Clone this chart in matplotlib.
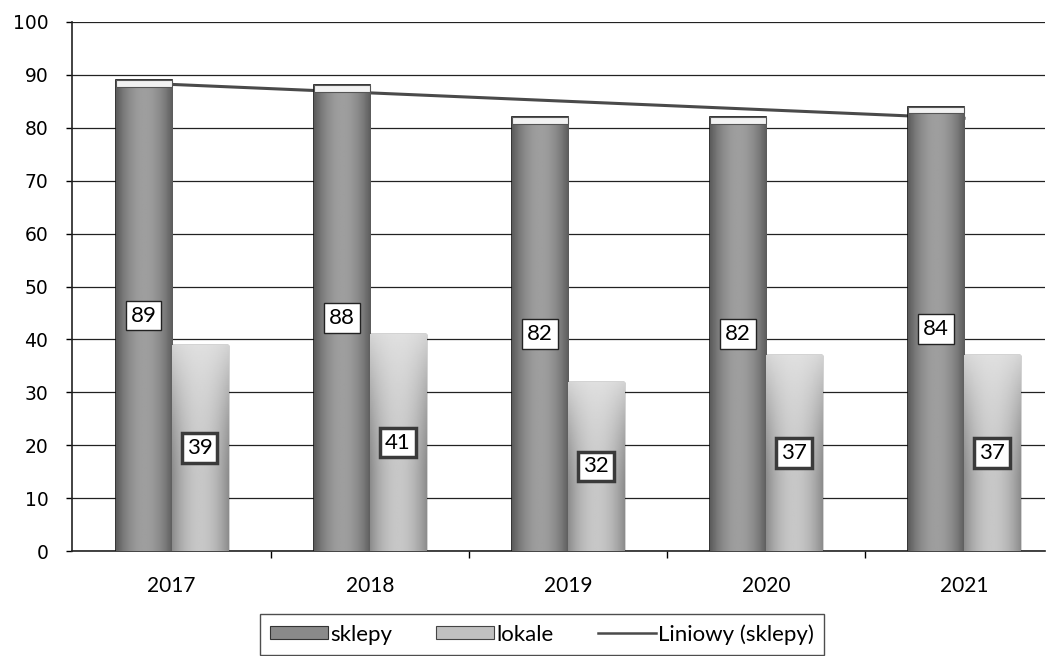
import matplotlib
matplotlib.use('Agg')
import matplotlib.pyplot as plt
import numpy as np
from matplotlib.patches import Patch
from matplotlib.lines import Line2D

plt.rcParams['font.family'] = ['Lato', 'DejaVu Sans']

years = ['2017', '2018', '2019', '2020', '2021']
sklepy = [89, 88, 82, 82, 84]
lokale = [39, 41, 32, 37, 37]

x = np.arange(len(years))
w = 0.283

fig = plt.figure(figsize=(10.51, 6.56), dpi=100)
ax = fig.add_axes([0.0685, 0.16, 0.926, 0.8065])


def shade(bar, dark, light, top_light=None):
    # cylinder-like shading: darker at the sides, lighter towards the middle
    x0, y0 = bar.get_x(), bar.get_y()
    bw, bh = bar.get_width(), bar.get_height()
    cols = np.linspace(-1, 1, 60)
    prof = 1 - np.abs(cols) ** 2
    row = dark + (light - dark) * prof
    img = np.tile(row, (100, 1))
    if top_light is not None:
        frac = np.linspace(0, 1, 100)[:, None]
        k = np.clip((frac - top_light) / (1 - top_light), 0, 1) ** 1.5
        img = img + (0.9 - img) * k * 0.8
    im = ax.imshow(img, cmap='gray', vmin=0, vmax=1, origin='lower',
                   extent=(x0, x0 + bw, y0, y0 + bh), aspect='auto', zorder=3)
    im.set_clip_path(bar)


bars_s = ax.bar(x - w / 2, sklepy, w, color='#808080', edgecolor='#111111',
                linewidth=1.2, zorder=3)
bars_l = ax.bar(x + w / 2, lokale, w, color='#b0b0b0', edgecolor='#222222',
                linewidth=1.0, zorder=3)
for b in bars_s:
    shade(b, 0.36, 0.62)
    # light cap on top of the cylinder
    ax.bar(b.get_x() + b.get_width() / 2, 1.2, b.get_width(), bottom=b.get_height() - 1.2,
           color='#f2f2f2', edgecolor='#555555', linewidth=0.8, zorder=4)
for b in bars_l:
    shade(b, 0.55, 0.78, top_light=0.35)

# linear trend of sklepy
coef = np.polyfit(x, sklepy, 1)
ax.plot(x, np.polyval(coef, x), color='#4a4a4a', lw=2.2, zorder=2.5)

# value labels in the middle of each bar
for b, v in zip(bars_s, sklepy):
    ax.text(b.get_x() + b.get_width() / 2, v / 2, str(v), ha='center', va='center',
            fontsize=16, zorder=6,
            bbox=dict(boxstyle='square,pad=0.22', fc='white', ec='#222222', lw=1.0))
for b, v in zip(bars_l, lokale):
    ax.text(b.get_x() + b.get_width() / 2, v / 2, str(v), ha='center', va='center',
            fontsize=16, zorder=6,
            bbox=dict(boxstyle='square,pad=0.22', fc='white', ec='#3a3a3a', lw=2.5))

ax.set_ylim(0, 100)
ax.set_xlim(-0.503, 4.41)
ax.set_yticks(np.arange(0, 101, 10))
ax.yaxis.grid(True, color='#222222', lw=0.9, zorder=1)
ax.set_axisbelow(True)

ax.set_xticks(x)
ax.set_xticklabels(years, fontsize=15)
ax.set_xticks(np.arange(0.5, 4.5, 1), minor=True)
ax.tick_params(axis='x', which='major', length=0, pad=18)
ax.tick_params(axis='x', which='minor', length=5, width=1, direction='out')
ax.tick_params(axis='y', length=4, width=1, pad=13)
for lbl in ax.get_yticklabels():
    lbl.set_fontfamily('DejaVu Sans')
    lbl.set_fontsize(13.5)

for s in ['top', 'right']:
    ax.spines[s].set_visible(False)
for s in ['left', 'bottom']:
    ax.spines[s].set_color('#222222')
    ax.spines[s].set_linewidth(1.2)

handles = [
    Patch(facecolor='#8a8a8a', edgecolor='#333333', lw=0.8),
    Patch(facecolor='#c0c0c0', edgecolor='#444444', lw=0.8),
    Line2D([0], [0], color='#4a4a4a', lw=1.8),
]
fig.legend(handles, ['sklepy', 'lokale', 'Liniowy (sklepy)'], loc='upper center',
           bbox_to_anchor=(0.5157, 0.064), ncol=3, fontsize=16, frameon=True,
           fancybox=False, edgecolor='#222222', handlelength=2.6, handleheight=0.5,
           handletextpad=0.1, columnspacing=2.0, borderpad=0.45, borderaxespad=0)

fig.savefig('out.png', dpi=100)
